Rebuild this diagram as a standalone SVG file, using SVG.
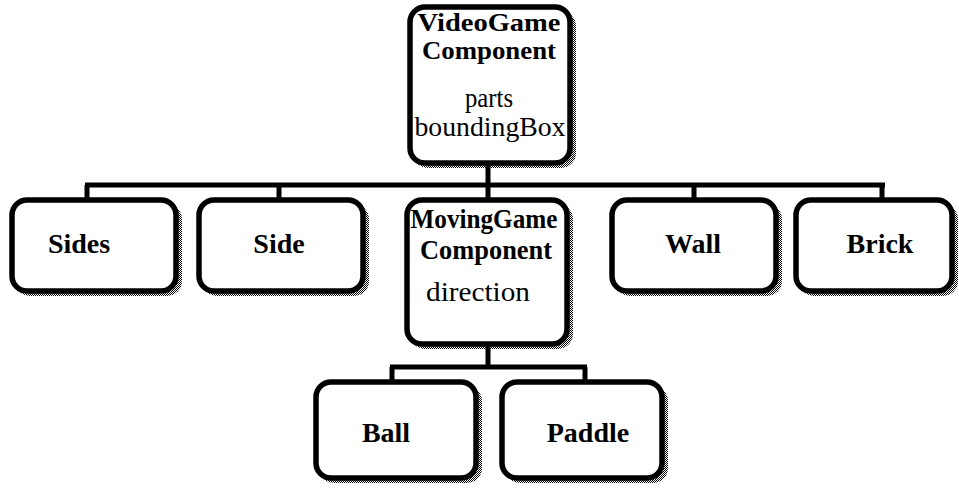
<svg xmlns="http://www.w3.org/2000/svg" width="959" height="491" viewBox="0 0 959 491">
<defs>
<pattern id="dots" width="2" height="2" patternUnits="userSpaceOnUse">
<rect x="0" y="0" width="1" height="1" fill="#000"/>
<rect x="1" y="1" width="1" height="1" fill="#000"/>
</pattern>
<style>
.shadow{fill:url(#dots);}
.box{fill:#fff;stroke:#000;stroke-width:5.5;}
.b{font-family:"Liberation Serif","Times New Roman",serif;font-weight:bold;font-size:28px;fill:#000;text-anchor:middle;}
.t{font-size:25px;}
.r{font-family:"Liberation Serif","Times New Roman",serif;font-size:28px;fill:#000;text-anchor:middle;}
.line{stroke:#000;stroke-width:5;fill:none;}
</style>
</defs>
<rect width="959" height="491" fill="#fff"/>
<g id="connectors">
<line class="line" x1="488" y1="163" x2="488" y2="185"/>
<line class="line" x1="85" y1="185" x2="885" y2="185"/>
<line class="line" x1="87" y1="185" x2="87" y2="200"/>
<line class="line" x1="279" y1="185" x2="279" y2="200"/>
<line class="line" x1="488" y1="185" x2="488" y2="200"/>
<line class="line" x1="694" y1="185" x2="694" y2="200"/>
<line class="line" x1="882" y1="185" x2="882" y2="200"/>
<line class="line" x1="488" y1="345" x2="488" y2="367"/>
<line class="line" x1="390" y1="367" x2="587" y2="367"/>
<line class="line" x1="392" y1="367" x2="392" y2="382"/>
<line class="line" x1="585" y1="367" x2="585" y2="382"/>
</g>
<g id="videogame">
<rect class="shadow" x="413" y="11" width="163" height="157" rx="15"/>
<rect class="box" x="410" y="7" width="160" height="156" rx="15"/>
<text class="b t" x="489" y="31" textLength="143" lengthAdjust="spacingAndGlyphs">VideoGame</text>
<text class="b t" x="489" y="59" textLength="134" lengthAdjust="spacingAndGlyphs">Component</text>
<text class="r" x="489" y="107" textLength="48" lengthAdjust="spacingAndGlyphs">parts</text>
<text class="r" x="490" y="136" textLength="151" lengthAdjust="spacingAndGlyphs">boundingBox</text>
</g>
<g id="sides">
<rect class="shadow" x="15" y="204" width="167" height="92" rx="15"/>
<rect class="box" x="12" y="200" width="164" height="91" rx="15"/>
<text class="b" x="79" y="253">Sides</text>
</g>
<g id="side">
<rect class="shadow" x="202" y="204" width="167" height="92" rx="15"/>
<rect class="box" x="199" y="200" width="164" height="91" rx="15"/>
<text class="b" x="279" y="253">Side</text>
</g>
<g id="moving">
<rect class="shadow" x="410" y="204" width="163" height="145" rx="15"/>
<rect class="box" x="407" y="200" width="160" height="144" rx="15"/>
<text class="b" x="484" y="228" textLength="147" lengthAdjust="spacingAndGlyphs">MovingGame</text>
<text class="b" x="486" y="259" textLength="132" lengthAdjust="spacingAndGlyphs">Component</text>
<text class="r" x="478" y="301" textLength="104" lengthAdjust="spacingAndGlyphs">direction</text>
</g>
<g id="wall">
<rect class="shadow" x="615" y="204" width="167" height="92" rx="15"/>
<rect class="box" x="612" y="200" width="164" height="91" rx="15"/>
<text class="b" x="693" y="253">Wall</text>
</g>
<g id="brick">
<rect class="shadow" x="799" y="204" width="159" height="92" rx="15"/>
<rect class="box" x="796" y="200" width="156" height="91" rx="15"/>
<text class="b" x="880" y="253">Brick</text>
</g>
<g id="ball">
<rect class="shadow" x="319" y="386" width="163" height="97" rx="15"/>
<rect class="box" x="316" y="382" width="160" height="96" rx="15"/>
<text class="b" x="386" y="442">Ball</text>
</g>
<g id="paddle">
<rect class="shadow" x="505" y="386" width="163" height="97" rx="15"/>
<rect class="box" x="502" y="382" width="160" height="96" rx="15"/>
<text class="b" x="588" y="442">Paddle</text>
</g>
</svg>
